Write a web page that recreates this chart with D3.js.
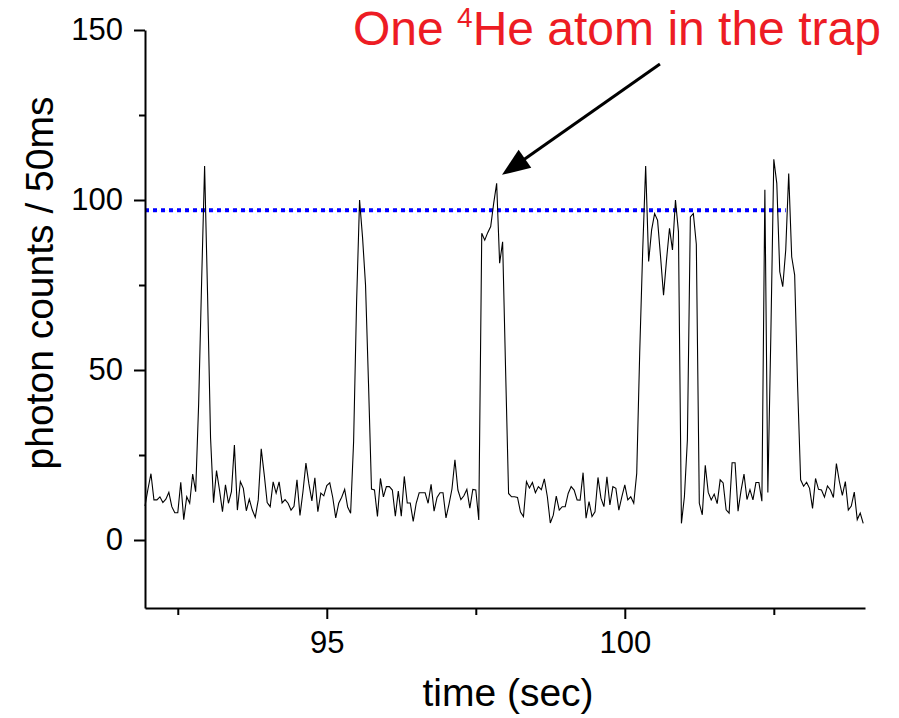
<!DOCTYPE html>
<html><head><meta charset="utf-8">
<script src="https://cdn.jsdelivr.net/npm/d3@7"></script>
<style>body{margin:0;background:#fff} svg{display:block}</style>
</head><body>
<svg id="chart" width="899" height="718"></svg>
<script>
// ---- data ----
const startTime = 91.95;   // sec, first 50 ms bin
const binWidth = 0.05;     // sec
const counts = [
  10, 15, 19.5, 11.8, 11.8, 12.7, 11, 12, 14, 9.8, 8, 8, 17, 6, 12.7, 10.8, 19.4, 14.2,
  40, 76, 110, 72, 30,
  11, 20.4, 14.7, 8.3, 16.2, 10.8, 14.2, 27.9, 8.8, 17.2, 15.2, 8.6, 12, 8.8, 6.7, 11.8, 26.8,
  19.3, 11, 9.8, 17.1, 13.8, 17.1, 10.9, 11.9, 10.8, 8.8, 9.9, 17.7, 7.2, 14.2, 22.6, 16.5, 11.5, 18.3, 8.3, 13.8, 13, 16, 16.8, 12.5, 6.5, 10.8, 12.6, 14.9, 9.7, 7.9,
  29, 70, 100, 89, 75, 46, 15, 14.7, 6.9,
  18.1, 12.7, 15.7, 15.7, 14.7, 7, 14.4, 7, 18.7, 10.9, 10.9, 5.5, 10.8, 13.9, 13.9, 13.9, 10.8, 16.4, 8.5, 12.5, 13.9, 13.9, 6.5, 10.5, 15, 23.6, 14.7, 11.9, 13, 14.9, 9.4, 14.9, 14.7, 5.9,
  90.2, 88.2, 90.4, 92.2, 99, 104.9, 81.4, 87.7, 50,
  13.7, 12.7, 12.7, 12.5, 8.2, 6.9, 17.2, 15.3, 16.9, 13.9, 15.7, 14.8, 18, 12.8, 5, 7.3, 12.9, 8.8, 9.8, 9.8, 13.7, 15.7, 14.7, 11.8, 11.7,
  19.8, 6.4, 11.3, 6.9, 8.3, 18.4, 12.3, 9.8, 18.6, 10.3, 15.7, 15.2, 8.8, 12.7, 16.2, 11.8, 12.7, 10.8, 19.6,
  55, 85, 110, 81.9, 91.2, 96, 94, 83.3, 72, 82.4, 91.7, 85.3, 100, 90.7, 4.9, 12.7, 29.4, 95, 96, 87, 10.8,
  7.4, 22, 14, 11.8, 13.5, 10.7, 17.7, 16.8, 8.9, 7.9, 22.7, 22.7, 8.5, 14.5, 19.4, 11.9, 14.8, 11.8, 16.9, 16.9, 11.4,
  103, 14, 60, 112, 104.9, 78.9, 74.5, 85.3, 107.8, 83.3, 77.9, 45,
  17.7, 15.8, 17, 15.2, 9.3, 18.1, 14.9, 14.7, 12.6, 15.9, 14.7, 12.5, 22.5, 17.2, 13.1, 17.2, 8.8, 10, 14.1, 6, 7.9, 4.9
];
const xDomain = [91.95, 104.03];
const yDomain = [-20, 150];
const xTicksMajor = [95, 100];
const xTicksMinor = [92.5, 97.5, 102.5];
const yTicksMajor = [0, 50, 100, 150];
const yTicksMinor = [25, 75, 125];
const thresholdValue = 97;
const thresholdSpan = [91.95, 102.7];
const xTitle = "time (sec)";
const yTitle = "photon counts / 50ms";
const noteParts = ["One ", "4", "He atom in the trap"];
const arrowStart = [100.59, 140];
const arrowTip = [97.94, 107.4];

// ---- drawing ----
const font = "'Liberation Sans', Arial, Helvetica, sans-serif";
const svg = d3.select("#chart");
const x = d3.scaleLinear().domain(xDomain).range([145, 865]);
const y = d3.scaleLinear().domain(yDomain).range([608, 30]);

const series = counts.map((v, i) => ({t: startTime + i * binWidth, v}));

// threshold dotted line
svg.append("line")
  .attr("x1", x(thresholdSpan[0])).attr("x2", x(thresholdSpan[1]))
  .attr("y1", y(thresholdValue)).attr("y2", y(thresholdValue))
  .attr("stroke", "#0000ff").attr("stroke-width", 4)
  .attr("stroke-dasharray", "4,4");

// data trace
svg.append("path").datum(series)
  .attr("fill", "none").attr("stroke", "#000").attr("stroke-width", 1.1)
  .attr("stroke-linejoin", "miter")
  .attr("d", d3.line().x(d => x(d.t)).y(d => y(d.v)));

// axes
function styleAxis(g) {
  g.selectAll("path,line").attr("stroke", "#000").attr("stroke-width", 2);
  g.selectAll("text").attr("font-family", font).attr("font-size", 31).attr("fill", "#000");
}
const yAxis = svg.append("g").attr("transform", "translate(145,0)")
  .call(d3.axisLeft(y).tickValues(yTicksMajor).tickSize(11).tickSizeOuter(0).tickPadding(11).tickFormat(d3.format("d")));
styleAxis(yAxis);
const yMinor = svg.append("g").attr("transform", "translate(145,0)")
  .call(d3.axisLeft(y).tickValues(yTicksMinor).tickSize(6).tickSizeOuter(0).tickFormat(""));
styleAxis(yMinor);
yMinor.select(".domain").remove();

const xAxis = svg.append("g").attr("transform", "translate(0,608)")
  .call(d3.axisBottom(x).tickValues(xTicksMajor).tickSize(11).tickSizeOuter(0).tickPadding(12).tickFormat(d3.format("d")));
styleAxis(xAxis);
const xMinor = svg.append("g").attr("transform", "translate(0,608)")
  .call(d3.axisBottom(x).tickValues(xTicksMinor).tickSize(7).tickSizeOuter(0).tickFormat(""));
styleAxis(xMinor);
xMinor.select(".domain").remove();

// axis titles
svg.append("text").attr("x", 508).attr("y", 706).attr("text-anchor", "middle")
  .attr("font-family", font).attr("font-size", 39).text(xTitle);
svg.append("text").attr("transform", "translate(53,283) rotate(-90)").attr("text-anchor", "middle")
  .attr("font-family", font).attr("font-size", 39).text(yTitle);

// annotation
const note = svg.append("text").attr("x", 353).attr("y", 45)
  .attr("font-family", font).attr("font-size", 48).attr("fill", "#ed1c24");
note.append("tspan").text(noteParts[0]);
note.append("tspan").attr("font-size", 28).attr("dy", -18).text(noteParts[1]);
note.append("tspan").attr("dy", 18).text(noteParts[2]);

// arrow
const sx = x(arrowStart[0]), sy = y(arrowStart[1]);
const tx = x(arrowTip[0]), ty = y(arrowTip[1]);
const ang = Math.atan2(ty - sy, tx - sx);
const headLen = 28, headHalf = 11;
const bx = tx - headLen * Math.cos(ang), by = ty - headLen * Math.sin(ang);
svg.append("line").attr("x1", sx).attr("y1", sy).attr("x2", bx + 2*Math.cos(ang)).attr("y2", by + 2*Math.sin(ang))
  .attr("stroke", "#000").attr("stroke-width", 3);
svg.append("polygon")
  .attr("points", [
    [tx, ty],
    [bx + headHalf * Math.sin(ang), by - headHalf * Math.cos(ang)],
    [bx - headHalf * Math.sin(ang), by + headHalf * Math.cos(ang)]
  ].map(p => p.join(",")).join(" "))
  .attr("fill", "#000");
</script>
</body></html>
